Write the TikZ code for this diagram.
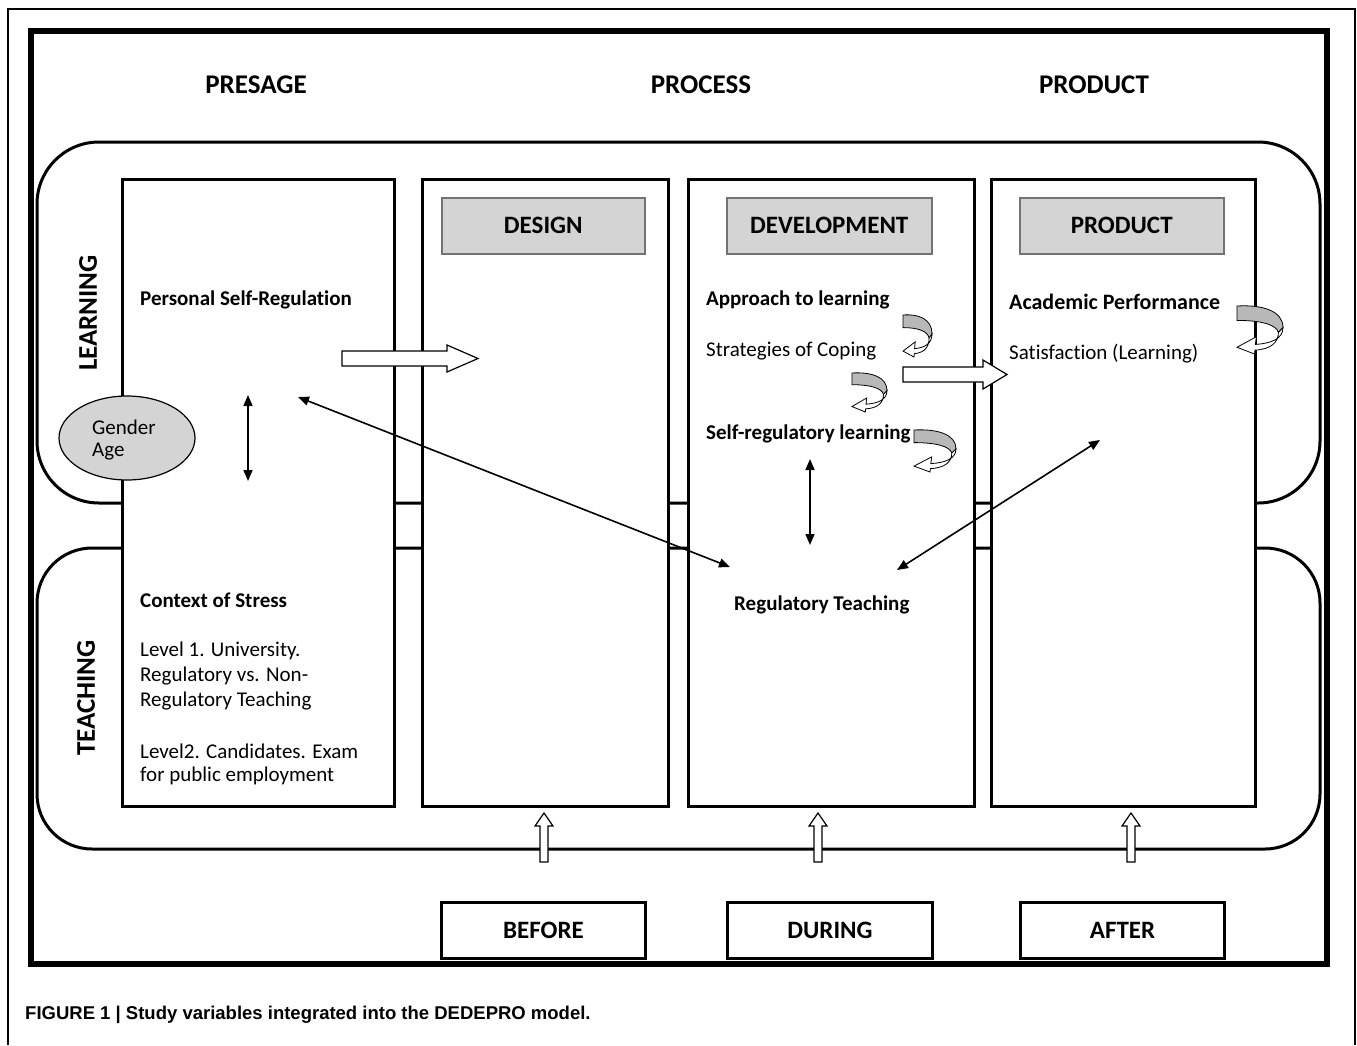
\documentclass[tikz,border=0pt]{standalone}
\usepackage{fontspec}
\setmainfont{Carlito}[Ligatures=NoCommon]
\newfontfamily\capfont{Liberation Sans}
\usetikzlibrary{arrows.meta,shapes.geometric}
\begin{document}
\begin{tikzpicture}[x=1pt,y=-1pt,
  colbox/.style={draw=black, line width=2.5pt, fill=white, inner sep=0, anchor=north west},
  hdrbox/.style={draw=black!55, line width=1.5pt, fill=black!17, inner sep=0, anchor=north west, minimum height=56pt,
     font=\fontsize{25}{28}\selectfont\bfseries},
  phasebox/.style={draw=black, line width=3pt, fill=white, inner sep=0, anchor=north west, minimum height=56pt,
     font=\fontsize{25}{28}\selectfont\bfseries},
  lbl/.style={anchor=west, inner sep=0, font=\fontsize{21}{24}\selectfont},
  lblb/.style={anchor=west, inner sep=0, font=\fontsize{21}{24}\selectfont\bfseries},
  ttl/.style={inner sep=0, font=\fontsize{27}{30}\selectfont\bfseries},
  dbl/.style={{Triangle[length=11pt,width=9pt]}-{Triangle[length=11pt,width=9pt]}, line width=1.6pt},
  hollow/.style={draw=black, line width=1.2pt, fill=white},
  uparrow/.pic={\draw[hollow] (-4,49) -- (-4,13) -- (-9,13) -- (0,0) -- (9,13) -- (4,13) -- (4,49) -- cycle;},
  curl/.pic={
    \filldraw[fill=black!28, draw=black, line width=0.8pt] (0,0) .. controls (0.55,-0.03) and (1,0.1) .. (1,0.45)
       -- (0.9,0.55) .. controls (0.85,0.38) and (0.5,0.3) .. (0,0.3) -- cycle;
    \filldraw[fill=white, draw=black, line width=0.8pt] (1,0.45) .. controls (1,0.68) and (0.75,0.78) .. (0.4,0.8)
       -- (0.42,0.64) -- (0,0.86) -- (0.38,1) -- (0.39,0.92) .. controls (0.75,0.9) and (0.9,0.75) .. (0.9,0.55) -- cycle;
  }]
\useasboundingbox (0,0) rectangle (1357,1045);
% outer frames
\draw[line width=2pt] (8,1045) -- (8,9) -- (1355,9) -- (1355,1045);
\draw[line width=6pt] (31,31) rectangle (1327,964);
% headings
\node[ttl] (presage) at (256,85) {PRESAGE};
\node[ttl] (process) at (701,85) {PROCESS};
\node[ttl] (product) at (1094,85) {PRODUCT};
% learning / teaching bands
\draw[line width=3pt, rounded corners=62pt] (37,142) rectangle (1320,503);
\draw[line width=3pt, rounded corners=55pt] (37,548) rectangle (1320,849);
\node[ttl, rotate=90] (learning) at (88,313) {LEARNING};
\node[ttl, rotate=90] (teaching) at (86,698) {TEACHING};
% columns
\node[colbox, minimum width=272pt, minimum height=627pt] (col1) at (121,178) {};
\node[colbox, minimum width=246pt, minimum height=627pt] (col2) at (421,178) {};
\node[colbox, minimum width=286pt, minimum height=627pt] (col3) at (687,178) {};
\node[colbox, minimum width=264pt, minimum height=627pt] (col4) at (990,178) {};
% header boxes
\node[hdrbox, minimum width=203pt] (design) at (441,197) {DESIGN};
\node[hdrbox, minimum width=205pt] (devel) at (726,197) {DEVELOPMENT};
\node[hdrbox, minimum width=204pt] (prodh) at (1019,197) {PRODUCT};
% bottom phase boxes
\node[phasebox, minimum width=204pt] (before) at (440,901) {BEFORE};
\node[phasebox, minimum width=205pt] (during) at (726,901) {DURING};
\node[phasebox, minimum width=204pt] (after) at (1019,901) {AFTER};
\pic at (544,813) {uparrow};
\pic at (818,813) {uparrow};
\pic at (1131,813) {uparrow};
% ellipse
\node[ellipse, draw=black, line width=1.2pt, fill=black!17, minimum width=136pt, minimum height=84pt] (gender) at (127,438) {};
\node[lbl] (g1) at (92,427) {Gender};
\node[lbl] (g2) at (92,452) {Age};
% column 1 texts
\node[lblb] (psr) at (140,300) {Personal Self-Regulation};
\node[lblb] (cos) at (140,600) {Context of Stress};
\node[lbl] (l1a) at (140,651) {Level 1. University.};
\node[lbl] (l1b) at (140,676) {Regulatory vs. Non-};
\node[lbl] (l1c) at (140,701) {Regulatory Teaching};
\node[lbl] (l2a) at (140,751) {Level2. Candidates. Exam};
\node[lbl] (l2b) at (140,776) {for public employment};
% column 3 texts
\node[lblb] (atl) at (706,300) {Approach to learning};
\node[lbl] (soc) at (706,351) {Strategies of Coping};
\node[lblb] (srl) at (706,434) {Self-regulatory learning};
\node[lblb] (rt) at (734,605) {Regulatory Teaching};
% column 4 texts
\node[lblb, font=\fontsize{22}{24}\selectfont\bfseries] (ap) at (1009,302) {Academic Performance};
\node[lbl] (sat) at (1009,354) {Satisfaction (Learning)};
% big hollow arrows
\draw[hollow] (342,351) -- (447,351) -- (447,345) -- (478,358.5) -- (447,372) -- (447,366) -- (342,366) -- cycle;
\draw[hollow] (903,367) -- (983,367) -- (983,360) -- (1007,374.5) -- (983,389) -- (983,382) -- (903,382) -- cycle;
% curled arrows
\pic[xscale=29, yscale=42] at (903,315) {curl};
\pic[xscale=35, yscale=39] at (852,373) {curl};
\pic[xscale=42, yscale=42] at (914,430) {curl};
\pic[xscale=46, yscale=48] at (1237,306) {curl};
% double arrows
\coordinate (v1a) at (248,395);
\coordinate (v1b) at (248,481);
\coordinate (v2a) at (810,459);
\coordinate (v2b) at (810,545);
\coordinate (d1a) at (298,397);
\coordinate (d1b) at (730,567);
\coordinate (d2a) at (1100,440);
\coordinate (d2b) at (897,570);
\draw[dbl] (v1a) -- (v1b);
\draw[dbl] (v2a) -- (v2b);
\draw[dbl] (d1a) -- (d1b);
\draw[dbl] (d2a) -- (d2b);
% caption
\node[anchor=west, inner sep=0, font=\capfont\bfseries\fontsize{18.5}{20}\selectfont] (cap) at (25,1015)
  {FIGURE 1 | Study variables integrated into the DEDEPRO model.};
\end{tikzpicture}
\end{document}
